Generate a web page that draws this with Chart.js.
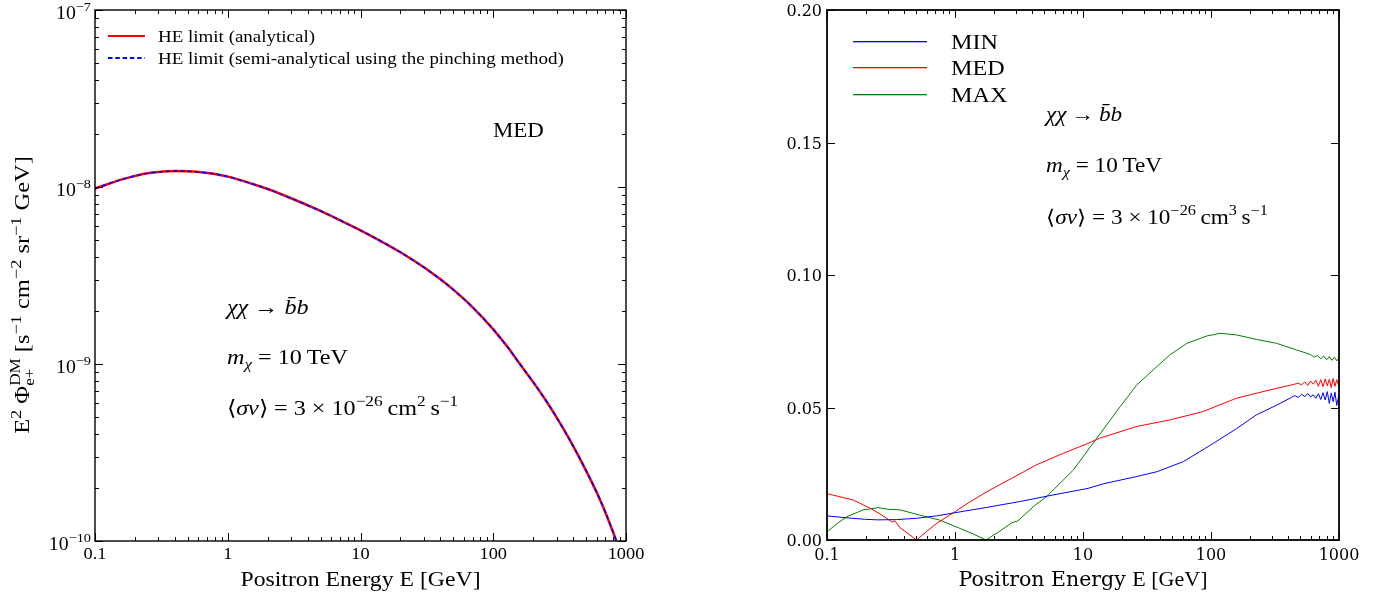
<!DOCTYPE html>
<html><head><meta charset="utf-8">
<script src="https://cdn.jsdelivr.net/npm/chart.js@4.4.1/dist/chart.umd.min.js"></script>
<style>
html,body{margin:0;padding:0;background:#fff;}
#wrap{position:relative;width:1384px;height:599px;overflow:hidden;}
#c1{position:absolute;left:0;top:0;}
#c2{position:absolute;left:692px;top:0;}
</style></head><body>
<div id="wrap"><canvas id="c1" width="692" height="599"></canvas><canvas id="c2" width="692" height="599"></canvas></div>
<script>
// ---------- data: left panel ----------
const eLeft = [0.1,0.13,0.16,0.2,0.25,0.3,0.4,0.5,0.6,0.8,1,1.5,2,3,5,7,10,15,20,30,40,50,70,100,130,150,200,250,300,400,500,600,700,800,850,900];
const fluxAnalytical = [9.8e-9,1.05e-8,1.105e-8,1.155e-8,1.195e-8,1.215e-8,1.23e-8,1.226e-8,1.215e-8,1.185e-8,1.145e-8,1.047e-8,9.74e-9,8.64e-9,7.32e-9,6.49e-9,5.69e-9,4.84e-9,4.28e-9,3.52e-9,3.01e-9,2.63e-9,2.09e-9,1.57e-9,1.23e-9,1.06e-9,7.9e-10,6.2e-10,4.99e-10,3.44e-10,2.5e-10,1.89e-10,1.45e-10,1.12e-10,9.9e-11,8.8e-11];
const fluxPinching = [9.8e-9,1.05e-8,1.105e-8,1.155e-8,1.195e-8,1.215e-8,1.23e-8,1.226e-8,1.215e-8,1.185e-8,1.145e-8,1.047e-8,9.74e-9,8.64e-9,7.32e-9,6.49e-9,5.69e-9,4.84e-9,4.28e-9,3.52e-9,3.01e-9,2.63e-9,2.09e-9,1.57e-9,1.23e-9,1.06e-9,7.9e-10,6.2e-10,4.99e-10,3.44e-10,2.5e-10,1.89e-10,1.45e-10,1.12e-10,9.9e-11,8.8e-11];
const leftXTicks = [0.1,1,10,100,1000];
const leftXTickLabels = ['0.1','1','10','100','1000'];
const leftYExponents = [-10,-9,-8,-7];

// ---------- data: right panel ----------
const minE = [0.1,0.14,0.2,0.25,0.35,0.5,0.72,1,1.77,3.2,5.85,11,14.4,26,38,61,99,158,226,326,425,
  450,480,510,540,570,600,630,660,690,720,750,780,810,840,870,900,930,960,1000];
const minErr = [0.0091,0.0084,0.0078,0.0076,0.0077,0.0082,0.0091,0.0103,0.0123,0.0145,0.017,0.0195,0.0212,0.0239,0.0258,0.0296,0.0358,0.042,0.0472,0.0509,0.0538,
  0.0545,0.0538,0.0550,0.0541,0.0553,0.0540,0.0548,0.0535,0.0552,0.0530,0.0556,0.0528,0.0560,0.0515,0.0555,0.0522,0.0558,0.0508,0.0550];
const medE = [0.1,0.16,0.217,0.26,0.3,0.32,0.34,0.372,0.43,0.5,0.6,0.72,1,1.3,1.77,2.78,4.3,7,11,13.5,26,47.6,86,158,255,388,450,
  480,510,540,570,600,630,660,690,720,750,780,810,840,870,900,930,960,1000];
const medErr = [0.0175,0.0151,0.012,0.0098,0.0078,0.0068,0.0072,0.0046,0.0024,0.0,0.0032,0.0063,0.0107,0.0143,0.0182,0.0233,0.0283,0.0327,0.0365,0.0384,0.0428,0.0453,0.0484,0.0535,0.056,0.0581,0.0588,
  0.0592,0.0585,0.0597,0.0583,0.0600,0.0588,0.0603,0.0580,0.0605,0.0578,0.0608,0.0582,0.0606,0.0575,0.0610,0.0580,0.0605,0.0578];
const maxE = [0.1,0.12,0.143,0.19,0.25,0.3,0.37,0.53,0.76,1.09,1.4,1.74,2.2,2.78,3.1,4.1,5.2,8.4,12.8,19.5,26.3,35.4,47.6,64.7,93,118,158,226,326,467,600,
  640,680,720,760,800,840,880,920,960,1000];
const maxErr = [0.0031,0.0062,0.0088,0.0113,0.0122,0.0116,0.0114,0.0094,0.0075,0.0044,0.0022,0.0,0.0031,0.0065,0.0072,0.0126,0.0164,0.0264,0.0384,0.0503,0.0585,0.0642,0.0698,0.0742,0.077,0.078,0.0774,0.0757,0.0742,0.0717,0.0700,
  0.0690,0.0696,0.0684,0.0694,0.0680,0.0692,0.0678,0.0690,0.0676,0.0688];
const rightXTicks = [0.1,1,10,100,1000];
const rightXTickLabels = ['0.1','1','10','100','1000'];
const rightYTicks = [0,0.05,0.1,0.15,0.2];
const rightYTickLabels = ['0.00','0.05','0.10','0.15','0.20'];
const seriesNames = ['MIN','MED','MAX'];
const seriesColors = ['#0000ff','#ff0000','#008000'];

// ---------- helpers ----------
const SER = '"Liberation Serif"';
const DJS = '"DejaVu Serif"';
function F(size, style, fam){ return (style?style+' ':'') + size + 'px ' + (fam||SER); }
function segW(ctx, s){
  if (s.sup!==undefined){ ctx.font=s.f; return Math.max(ctx.measureText(s.sup).width, ctx.measureText(s.sub).width); }
  ctx.font = s.f; return ctx.measureText(s.t).width;
}
function richWidth(ctx, segs){ let w=0; for (const s of segs) w += segW(ctx,s); return w; }
function drawRich(ctx, x, y, segs, align, sx){
  sx = sx || 1;
  const w = richWidth(ctx, segs) * sx;
  const x0 = align==='right' ? x-w : (align==='center' ? x-w/2 : x);
  ctx.save();
  ctx.fillStyle = '#000';
  ctx.translate(x0, y); ctx.scale(sx, 1);
  ctx.textAlign='left'; ctx.textBaseline='alphabetic';
  let cx = 0;
  for (const s of segs){
    const sw = segW(ctx,s);
    ctx.font = s.f;
    if (s.sup!==undefined){
      ctx.fillText(s.sup, cx, s.dyUp);
      ctx.fillText(s.sub, cx, s.dyDown);
    } else {
      ctx.fillText(s.t, cx, (s.dy||0));
    }
    cx += sw;
  }
  ctx.restore();
}
function logMinors(min, max){
  const out=[];
  for (let d=Math.floor(Math.log10(min)); d<=Math.ceil(Math.log10(max)); d++){
    for (let k=2;k<=9;k++){ const v=k*Math.pow(10,d); if (v>min && v<max) out.push(v); }
  }
  return out;
}
function drawFrameTicks(chart, opts){
  const ctx = chart.ctx, a = chart.chartArea, sx = chart.scales.x, sy = chart.scales.y;
  ctx.save();
  ctx.strokeStyle='#000';
  ctx.lineWidth = 1;
  ctx.beginPath();
  for (const v of opts.xMajor){ const p=Math.round(sx.getPixelForValue(v))+0.5;
    ctx.moveTo(p,a.bottom); ctx.lineTo(p,a.bottom-opts.maj); ctx.moveTo(p,a.top); ctx.lineTo(p,a.top+opts.maj); }
  for (const v of opts.xMinor){ const p=Math.round(sx.getPixelForValue(v))+0.5;
    ctx.moveTo(p,a.bottom); ctx.lineTo(p,a.bottom-opts.min); ctx.moveTo(p,a.top); ctx.lineTo(p,a.top+opts.min); }
  for (const v of opts.yMajor){ const p=Math.round(sy.getPixelForValue(v))+0.5;
    ctx.moveTo(a.left,p); ctx.lineTo(a.left+opts.maj,p); ctx.moveTo(a.right,p); ctx.lineTo(a.right-opts.maj,p); }
  for (const v of opts.yMinor){ const p=Math.round(sy.getPixelForValue(v))+0.5;
    ctx.moveTo(a.left,p); ctx.lineTo(a.left+opts.min,p); ctx.moveTo(a.right,p); ctx.lineTo(a.right-opts.min,p); }
  ctx.stroke();
  ctx.lineWidth = opts.frame;
  ctx.strokeRect(a.left, a.top, a.right-a.left, a.bottom-a.top);
  ctx.restore();
}

// ---------- left chart ----------
const leftPlugin = {
  id:'leftDecor',
  afterDraw(chart){
    const ctx=chart.ctx, a=chart.chartArea, sx=chart.scales.x, sy=chart.scales.y;
    drawFrameTicks(chart, {xMajor:leftXTicks, xMinor:logMinors(0.1,1000),
      yMajor:leftYExponents.map(e=>Math.pow(10,e)), yMinor:logMinors(1e-10,1e-7), maj:8, min:4, frame:1.4});
    leftXTicks.forEach((v,i)=>drawRich(ctx, sx.getPixelForValue(v), 559, [{t:leftXTickLabels[i], f:F(17)}], 'center', 1.08));
    leftYExponents.forEach(e=>{
      const p=sy.getPixelForValue(Math.pow(10,e));
      drawRich(ctx, a.left-4, p+8.5, [{t:'10',f:F(18)},{t:'\u2212'+Math.abs(e),f:F(13),dy:-8}], 'right', 1.1);
    });
    drawRich(ctx, (a.left+a.right)/2, 586, [{t:'Positron Energy E [GeV]', f:F(21)}], 'center', 1.13);
    ctx.save(); ctx.translate(29, 295); ctx.rotate(-Math.PI/2);
    drawRich(ctx, 0, 0, [
      {t:'E',f:F(20)},{t:'2',f:F(15),dy:-8},{t:' \u03A6',f:F(20)},
      {sup:'DM',sub:'e+',f:F(14),dyUp:-9,dyDown:5},
      {t:' [s',f:F(20)},{t:'\u22121',f:F(15),dy:-8},{t:' cm',f:F(20)},{t:'\u22122',f:F(15),dy:-8},
      {t:' sr',f:F(20)},{t:'\u22121',f:F(15),dy:-8},{t:' GeV]',f:F(20)}], 'center', 1.22);
    ctx.restore();
    // legend
    const d0 = chart.data.datasets[0], d1 = chart.data.datasets[1];
    ctx.save();
    ctx.lineWidth=2.2; ctx.strokeStyle=d0.borderColor;
    ctx.beginPath(); ctx.moveTo(108,36); ctx.lineTo(145,36); ctx.stroke();
    ctx.lineWidth=2; ctx.strokeStyle=d1.borderColor; ctx.setLineDash([4.5,2.8]);
    ctx.beginPath(); ctx.moveTo(108,58); ctx.lineTo(145,58); ctx.stroke();
    ctx.restore();
    drawRich(ctx, 158, 42, [{t:d0.label, f:F(16.5)}], 'left', 1.15);
    drawRich(ctx, 158, 64, [{t:d1.label, f:F(16.5)}], 'left', 1.15);
    drawRich(ctx, 493, 137, [{t:'MED', f:F(21)}], 'left', 1.09);
    const fs=21, sm=15, st=1.15;
    drawRich(ctx, 227, 314, [{t:'\u03C7\u03C7',f:F(fs,'italic')},{t:' \u2192 ',f:F(fs)},{t:'b\u0304b',f:F(fs,'italic')}], 'left', st);
    drawRich(ctx, 227, 364, [{t:'m',f:F(fs,'italic')},{t:'\u03C7',f:F(sm,'italic'),dy:5},{t:' = 10\u2009TeV',f:F(fs)}], 'left', st);
    drawRich(ctx, 227, 415, [{t:'\u27E8',f:F(fs)},{t:'\u03C3v',f:F(fs,'italic')},{t:'\u27E9 = 3 \u00D7 10',f:F(fs)},
      {t:'\u221226',f:F(sm),dy:-9},{t:'\u2009cm',f:F(fs)},{t:'2',f:F(sm),dy:-9},{t:'\u2009s',f:F(fs)},{t:'\u22121',f:F(sm),dy:-9}], 'left', st);
  }
};

new Chart(document.getElementById('c1'), {
  type:'line',
  data:{datasets:[
    {label:'HE limit (analytical)', data:eLeft.map((e,i)=>({x:e,y:fluxAnalytical[i]})), order:2,
     borderColor:'#ff0000', borderWidth:2.5, pointRadius:0, cubicInterpolationMode:'monotone', fill:false},
    {label:'HE limit (semi-analytical using the pinching method)', data:eLeft.map((e,i)=>({x:e,y:fluxPinching[i]})), order:1,
     borderColor:'#0000ff', borderWidth:1.6, borderDash:[4.5,2.8], pointRadius:0, cubicInterpolationMode:'monotone', fill:false}
  ]},
  options:{
    responsive:false, animation:false, devicePixelRatio:1,
    layout:{padding:{left:0,top:10,right:66,bottom:0}},
    plugins:{legend:{display:false}, tooltip:{enabled:false}},
    scales:{
      x:{type:'logarithmic', min:0.1, max:1000, ticks:{display:false}, grid:{display:false}, border:{display:false},
         afterFit(s){ s.height=58; }},
      y:{type:'logarithmic', min:1e-10, max:1e-7, ticks:{display:false}, grid:{display:false}, border:{display:false},
         afterFit(s){ s.width=95; }}
    }
  },
  plugins:[leftPlugin]
});

// ---------- right chart ----------
const rightPlugin = {
  id:'rightDecor',
  afterDraw(chart){
    const ctx=chart.ctx, a=chart.chartArea, sx=chart.scales.x, sy=chart.scales.y;
    drawFrameTicks(chart, {xMajor:rightXTicks, xMinor:logMinors(0.1,1000), yMajor:rightYTicks, yMinor:[], maj:8, min:4, frame:1.8});
    rightXTicks.forEach((v,i)=>drawRich(ctx, sx.getPixelForValue(v), 560, [{t:rightXTickLabels[i], f:F(16,'',DJS)}], 'center'));
    rightYTicks.forEach((v,i)=>drawRich(ctx, a.left-5, sy.getPixelForValue(v)+6, [{t:rightYTickLabels[i], f:F(16,'',DJS)}], 'right'));
    drawRich(ctx, (a.left+a.right)/2, 586, [{t:'Positron Energy ',f:F(20.5,'',DJS)},{t:'E [GeV]',f:F(22)}], 'center');
    ctx.save(); ctx.translate(772, 283); ctx.rotate(-Math.PI/2);
    drawRich(ctx, 0, 0, [{t:'Relative Error ',f:F(20,'',DJS)},{t:'[%]',f:F(22)}], 'center');
    ctx.restore();
    // legend
    const ys=[41,67,94];
    seriesNames.forEach((n,i)=>{
      ctx.save();
      ctx.fillStyle = seriesColors[i];
      ctx.fillRect(161, ys[i], 74, 1.3);
      ctx.restore();
      drawRich(ctx, 259, ys[i]+7.5, [{t:n,f:F(21)}], 'left', 1.15);
    });
    const fs=20, sm=14, x0=354, st=1.16;
    drawRich(ctx, x0, 121, [{t:'\u03C7\u03C7',f:F(fs,'italic')},{t:'\u2009\u2192\u2009',f:F(fs)},{t:'b\u0304b',f:F(fs,'italic')}], 'left', st);
    drawRich(ctx, x0, 172, [{t:'m',f:F(fs,'italic')},{t:'\u03C7',f:F(sm,'italic'),dy:5},{t:' = 10\u2009TeV',f:F(fs)}], 'left', st);
    drawRich(ctx, x0, 224, [{t:'\u27E8',f:F(fs)},{t:'\u03C3v',f:F(fs,'italic')},{t:'\u27E9 = 3 \u00D7 10',f:F(fs)},
      {t:'\u221226',f:F(sm),dy:-9},{t:'\u2009cm',f:F(fs)},{t:'3',f:F(sm),dy:-9},{t:'\u2009s',f:F(fs)},{t:'\u22121',f:F(sm),dy:-9}], 'left', st);
  }
};

new Chart(document.getElementById('c2'), {
  type:'line',
  data:{datasets:[
    {label:seriesNames[0], data:minE.map((e,i)=>({x:e,y:minErr[i]})), borderColor:seriesColors[0], borderWidth:1, pointRadius:0, tension:0, fill:false},
    {label:seriesNames[1], data:medE.map((e,i)=>({x:e,y:medErr[i]})), borderColor:seriesColors[1], borderWidth:1, pointRadius:0, tension:0, fill:false},
    {label:seriesNames[2], data:maxE.map((e,i)=>({x:e,y:maxErr[i]})), borderColor:seriesColors[2], borderWidth:1, pointRadius:0, tension:0, fill:false}
  ]},
  options:{
    responsive:false, animation:false, devicePixelRatio:1,
    layout:{padding:{left:0,top:10,right:45,bottom:0}},
    plugins:{legend:{display:false}, tooltip:{enabled:false}},
    scales:{
      x:{type:'logarithmic', min:0.1, max:1000, ticks:{display:false}, grid:{display:false}, border:{display:false},
         afterFit(s){ s.height=59; }},
      y:{type:'linear', min:0, max:0.2, ticks:{display:false}, grid:{display:false}, border:{display:false},
         afterFit(s){ s.width=135; }}
    }
  },
  plugins:[rightPlugin]
});
</script>
</body></html>
